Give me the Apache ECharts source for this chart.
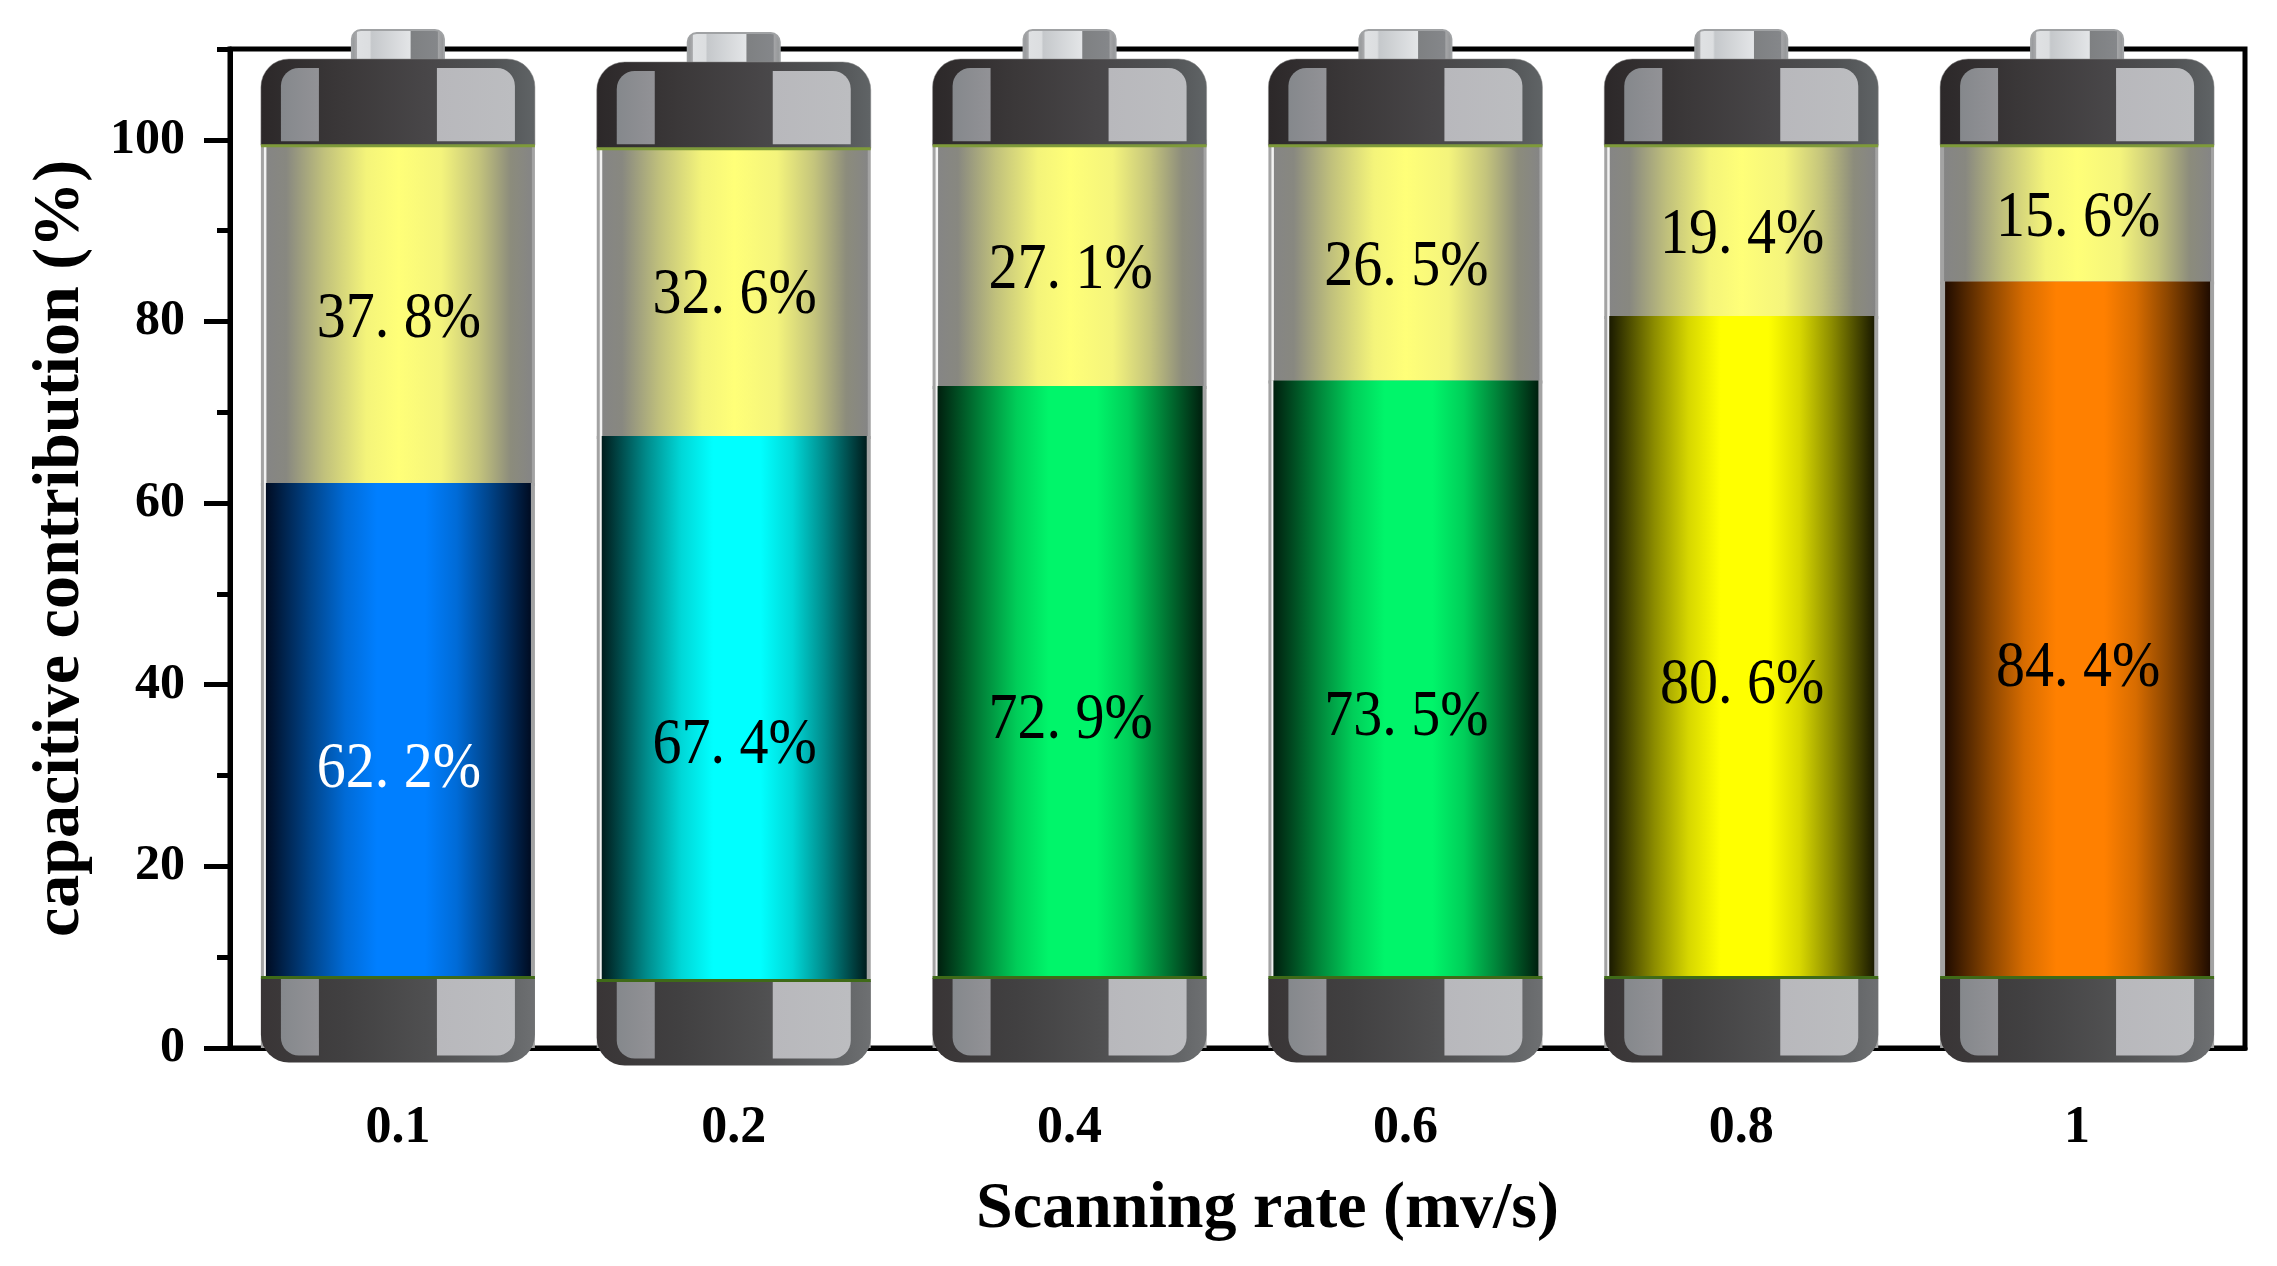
<!DOCTYPE html>
<html>
<head>
<meta charset="utf-8">
<script src="https://cdn.jsdelivr.net/npm/echarts@6/dist/echarts.min.js"></script>
<style>
  html, body { margin: 0; padding: 0; background: #fff; }
  #container { width: 2277px; height: 1266px; }
</style>
</head>
<body>
<div id="container"></div>
<script>
var rates = ["0.1", "0.2", "0.4", "0.6", "0.8", "1"];
var capacitive = [62.2, 67.4, 72.9, 73.5, 80.6, 84.4];
var diffusion = [37.8, 32.6, 27.1, 26.5, 19.4, 15.6];
var capacitiveLabels = ["62. 2%", "67. 4%", "72. 9%", "73. 5%", "80. 6%", "84. 4%"];
var diffusionLabels = ["37. 8%", "32. 6%", "27. 1%", "26. 5%", "19. 4%", "15. 6%"];
var majorTicks = [0, 20, 40, 60, 80, 100];
var minorTicks = [10, 30, 50, 70, 90, 110];

var fillColors = ["#007fff", "#00ffff", "#00f56a", "#00f56a", "#ffff00", "#ff8000"];
var edgeColors = ["#000c22", "#001c1c", "#001f0e", "#001f0e", "#1a1a00", "#200c00"];
var midColors = ["#00458c", "#008c8c", "#00853a", "#00853a", "#8c8c00", "#8c4600"];

var dom = document.getElementById("container");
var myChart = echarts.init(dom);

function hGradient(stops) {
  return new echarts.graphic.LinearGradient(0, 0, 1, 0, stops.map(function (s) {
    return { offset: s[0], color: s[1] };
  }));
}

function box(x, y, w, h, fill, r) {
  return { type: "rect", shape: { x: x, y: y, width: w, height: h, r: r || 0 }, style: { fill: fill } };
}

function percentText(x, y, text, color) {
  return {
    type: "text",
    x: x,
    y: y,
    scaleY: 1.12,
    style: {
      text: text,
      x: 0,
      y: 0,
      fill: color,
      align: "center",
      verticalAlign: "middle",
      font: "58px 'Liberation Serif'"
    }
  };
}

// grey/yellow upper part
function renderDiffusion(params, api) {
  var i = params.dataIndex;
  var x = api.coord([api.value(0), 0])[0];
  var top = api.coord([0, 100])[1];
  var bottom = api.coord([0, capacitive[i]])[1];
  var mid = (top + bottom) / 2 + 8;
  var children = [
    box(x - 137, top, 274, bottom - top + 3, "#a3a3a3"),
    box(x - 133, top, 267, bottom - top + 3, hGradient([
      [0, "#858585"], [0.08, "#888880"], [0.22, "#c0c07c"], [0.38, "#f4f47a"],
      [0.5, "#ffff78"], [0.66, "#f4f47c"], [0.8, "#c4c47c"], [0.92, "#8c8c7c"], [1, "#858585"]
    ]))
  ];
  if (i < 5) children.push(box(x - 134, top, 2.5, bottom - top + 3, "#f2f2f2"));
  children.push(percentText(x + 1, mid, diffusionLabels[i], "#000"));
  return { type: "group", children: children };
}

// colored lower part
function renderCapacitive(params, api) {
  var i = params.dataIndex;
  var x = api.coord([api.value(0), 0])[0];
  var top = api.coord([0, api.value(1)])[1];
  var bottom = api.coord([0, 0])[1];
  var mid = (top + bottom) / 2 + 4;
  var between = echarts.color.lerp(0.65, [midColors[i], fillColors[i]]);
  var children = [
    box(x - 137, top, 274, bottom - top, "#a3a3a3"),
    box(x - 134, top, 2.5, bottom - top, i < 5 ? "#f2f2f2" : "#a3a3a3"),
    box(x - 132, top, 265, bottom - top, hGradient([
      [0, edgeColors[i]], [0.17, midColors[i]], [0.3, between], [0.42, fillColors[i]],
      [0.6, fillColors[i]], [0.72, between], [0.84, midColors[i]], [1, edgeColors[i]]
    ])),
    percentText(x + 1, mid, capacitiveLabels[i], i === 0 ? "#fff" : "#000")
  ];
  return { type: "group", children: children };
}

// caps and terminal of the battery
function renderCaps(params, api) {
  var i = params.dataIndex;
  var shift = i === 1 ? 3 : 0;
  var x = api.coord([api.value(0), 0])[0];
  var capTop = api.coord([0, 108.9])[1] + shift;
  var capBottom = api.coord([0, 99.4])[1] + shift;
  var baseTop = api.coord([0, 7.7])[1] + shift;
  var baseBottom = api.coord([0, -1.6])[1] + shift;

  var topMetal = hGradient([[0, "#2c2829"], [0.3, "#3b3839"], [0.6, "#484648"], [0.85, "#505254"], [1, "#606466"]]);
  var baseMetal = hGradient([[0, "#393536"], [0.3, "#414041"], [0.6, "#4f4f50"], [0.85, "#5e6062"], [1, "#6e7072"]]);
  var terminal = hGradient([
    [0, "#8f9193"], [0.06, "#a9aaac"], [0.07, "#dfe1e3"], [0.2, "#dcdee0"], [0.22, "#c5c8cb"],
    [0.63, "#e3e5e7"], [0.64, "#7e8082"], [0.92, "#85878a"], [0.93, "#a4a5a7"], [1, "#8f9193"]
  ]);
  var leftPanel = hGradient([[0, "#85888c"], [1, "#929296"]]);
  var rightPanel = hGradient([[0, "#b8b8bc"], [1, "#bcbdc0"]]);

  var nipple = box(x - 46, capTop - 29, 92, 31, terminal, [9, 9, 0, 0]);
  nipple.style.stroke = "#a0a2a4";
  nipple.style.lineWidth = 2;

  var outerTop = box(x - 137, capTop, 274, capBottom - capTop, topMetal, [28, 28, 0, 0]);
  outerTop.style.stroke = "#8a8a8a";
  outerTop.style.lineWidth = 0.5;

  return {
    type: "group",
    children: [
      nipple,
      outerTop,
      box(x - 117, capTop + 9, 38, capBottom - capTop - 13, leftPanel, [18, 0, 0, 0]),
      box(x + 39, capTop + 9, 78, capBottom - capTop - 13, rightPanel, [0, 18, 0, 0]),
      box(x - 137, capBottom - 1, 274, 3, "#7e9a3a"),

      box(x - 137, baseTop, 274, baseBottom - baseTop, baseMetal, [0, 0, 28, 28]),
      box(x - 117, baseTop, 38, baseBottom - baseTop - 7, leftPanel, [0, 0, 0, 18]),
      box(x + 39, baseTop, 78, baseBottom - baseTop - 7, rightPanel, [0, 0, 18, 0]),
      box(x - 137, baseTop - 2, 274, 3, "#3f6a18")
    ]
  };
}

var option = {
  backgroundColor: "#fff",
  animation: false,
  textStyle: { fontFamily: "Liberation Serif" },
  grid: {
    left: 230, top: 49, width: 2015, height: 999,
    outerBoundsMode: "none",
    show: true, borderColor: "#000", borderWidth: 5, backgroundColor: "transparent"
  },
  xAxis: {
    type: "category",
    data: rates,
    name: "Scanning rate (mv/s)",
    nameLocation: "middle",
    nameGap: 129,
    nameTextStyle: { color: "#000", fontSize: 66, fontWeight: "bold", fontFamily: "Liberation Serif", padding: [0, 0, 0, 60] },
    axisLine: { lineStyle: { color: "#000", width: 5 } },
    axisTick: { alignWithLabel: true, length: 30, lineStyle: { color: "#000", width: 5 } },
    axisLabel: { color: "#000", fontSize: 52, fontWeight: "bold", fontFamily: "Liberation Serif", margin: 55 },
    splitLine: { show: false }
  },
  yAxis: [{
    type: "value",
    min: 0,
    max: 110,
    interval: 20,
    name: "capacitive contribution (%)",
    nameLocation: "middle",
    nameRotate: 90,
    nameGap: 136,
    nameTextStyle: { color: "#000", fontSize: 66, fontWeight: "bold", fontFamily: "Liberation Serif" },
    axisLine: { show: true, lineStyle: { color: "#000", width: 5 } },
    axisTick: { show: true, customValues: majorTicks, length: 26, lineStyle: { color: "#000", width: 5 } },
    axisLabel: { customValues: majorTicks, color: "#000", fontSize: 50, fontWeight: "bold", fontFamily: "Liberation Serif", margin: 45 },
    splitLine: { show: false }
  }, {
    type: "value",
    position: "left",
    min: 0,
    max: 110,
    interval: 20,
    axisLine: { show: false },
    axisTick: { show: true, customValues: minorTicks, length: 13, lineStyle: { color: "#000", width: 5 } },
    axisLabel: { show: false },
    splitLine: { show: false }
  }],
  series: [{
    type: "custom",
    name: "diffusion",
    z: 3,
    clip: false,
    renderItem: renderDiffusion,
    encode: { x: 0, y: 1 },
    data: diffusion.map(function (v, i) { return [i, v]; })
  }, {
    type: "custom",
    name: "capacitive",
    z: 4,
    clip: false,
    renderItem: renderCapacitive,
    encode: { x: 0, y: 1 },
    data: capacitive.map(function (v, i) { return [i, v]; })
  }, {
    type: "custom",
    name: "caps",
    z: 5,
    clip: false,
    renderItem: renderCaps,
    encode: { x: 0 },
    data: rates.map(function (r, i) { return [i]; })
  }]
};

myChart.setOption(option);
</script>
</body>
</html>
